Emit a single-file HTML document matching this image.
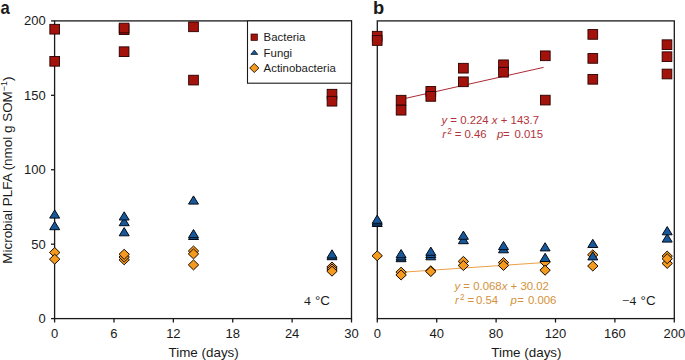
<!DOCTYPE html>
<html><head><meta charset="utf-8"><style>
html,body{margin:0;padding:0;background:#fff;width:685px;height:360px;overflow:hidden}
svg{display:block}
text{font-family:"Liberation Sans", sans-serif;white-space:pre}
</style></head><body>
<svg width="685" height="360" viewBox="0 0 685 360">
<rect x="54.6" y="20.9" width="296.90" height="297.70" fill="none" stroke="#1a1a1a" stroke-width="1.3"/>
<rect x="377.3" y="20.9" width="297.00" height="297.70" fill="none" stroke="#1a1a1a" stroke-width="1.3"/>
<line x1="51.0" y1="318.60" x2="54.6" y2="318.60" stroke="#1a1a1a" stroke-width="1.3"/>
<line x1="51.0" y1="244.18" x2="54.6" y2="244.18" stroke="#1a1a1a" stroke-width="1.3"/>
<line x1="51.0" y1="169.75" x2="54.6" y2="169.75" stroke="#1a1a1a" stroke-width="1.3"/>
<line x1="51.0" y1="95.32" x2="54.6" y2="95.32" stroke="#1a1a1a" stroke-width="1.3"/>
<line x1="51.0" y1="20.90" x2="54.6" y2="20.90" stroke="#1a1a1a" stroke-width="1.3"/>
<line x1="54.60" y1="318.6" x2="54.60" y2="322.5" stroke="#1a1a1a" stroke-width="1.3"/>
<line x1="377.30" y1="318.6" x2="377.30" y2="322.5" stroke="#1a1a1a" stroke-width="1.3"/>
<line x1="113.98" y1="318.6" x2="113.98" y2="322.5" stroke="#1a1a1a" stroke-width="1.3"/>
<line x1="436.70" y1="318.6" x2="436.70" y2="322.5" stroke="#1a1a1a" stroke-width="1.3"/>
<line x1="173.36" y1="318.6" x2="173.36" y2="322.5" stroke="#1a1a1a" stroke-width="1.3"/>
<line x1="496.10" y1="318.6" x2="496.10" y2="322.5" stroke="#1a1a1a" stroke-width="1.3"/>
<line x1="232.74" y1="318.6" x2="232.74" y2="322.5" stroke="#1a1a1a" stroke-width="1.3"/>
<line x1="555.50" y1="318.6" x2="555.50" y2="322.5" stroke="#1a1a1a" stroke-width="1.3"/>
<line x1="292.12" y1="318.6" x2="292.12" y2="322.5" stroke="#1a1a1a" stroke-width="1.3"/>
<line x1="614.90" y1="318.6" x2="614.90" y2="322.5" stroke="#1a1a1a" stroke-width="1.3"/>
<line x1="351.50" y1="318.6" x2="351.50" y2="322.5" stroke="#1a1a1a" stroke-width="1.3"/>
<line x1="674.30" y1="318.6" x2="674.30" y2="322.5" stroke="#1a1a1a" stroke-width="1.3"/>
<line x1="401.06" y1="99.37" x2="543.62" y2="67.36" stroke="#ad2a35" stroke-width="1"/>
<line x1="401.06" y1="272.30" x2="543.62" y2="262.58" stroke="#eba048" stroke-width="1"/>
<path d="M54.70,247.50L59.90,252.50L54.70,257.50L49.50,252.50Z" fill="#f49a1e" stroke="#1a0d00" stroke-width="1" stroke-linejoin="round"/>
<path d="M54.70,254.20L59.90,259.20L54.70,264.20L49.50,259.20Z" fill="#f49a1e" stroke="#1a0d00" stroke-width="1" stroke-linejoin="round"/>
<path d="M124.20,254.80L129.40,259.80L124.20,264.80L119.00,259.80Z" fill="#f49a1e" stroke="#1a0d00" stroke-width="1" stroke-linejoin="round"/>
<path d="M124.20,252.00L129.40,257.00L124.20,262.00L119.00,257.00Z" fill="#f49a1e" stroke="#1a0d00" stroke-width="1" stroke-linejoin="round"/>
<path d="M124.20,249.30L129.40,254.30L124.20,259.30L119.00,254.30Z" fill="#f49a1e" stroke="#1a0d00" stroke-width="1" stroke-linejoin="round"/>
<path d="M193.50,259.90L198.70,264.90L193.50,269.90L188.30,264.90Z" fill="#f49a1e" stroke="#1a0d00" stroke-width="1" stroke-linejoin="round"/>
<path d="M193.50,246.00L198.70,251.00L193.50,256.00L188.30,251.00Z" fill="#f49a1e" stroke="#1a0d00" stroke-width="1" stroke-linejoin="round"/>
<path d="M193.50,248.90L198.70,253.90L193.50,258.90L188.30,253.90Z" fill="#f49a1e" stroke="#1a0d00" stroke-width="1" stroke-linejoin="round"/>
<path d="M332.00,262.00L337.20,267.00L332.00,272.00L326.80,267.00Z" fill="#f49a1e" stroke="#1a0d00" stroke-width="1" stroke-linejoin="round"/>
<path d="M332.00,264.00L337.20,269.00L332.00,274.00L326.80,269.00Z" fill="#f49a1e" stroke="#1a0d00" stroke-width="1" stroke-linejoin="round"/>
<path d="M332.00,266.20L337.20,271.20L332.00,276.20L326.80,271.20Z" fill="#f49a1e" stroke="#1a0d00" stroke-width="1" stroke-linejoin="round"/>
<path d="M377.20,250.80L382.40,255.80L377.20,260.80L372.00,255.80Z" fill="#f49a1e" stroke="#1a0d00" stroke-width="1" stroke-linejoin="round"/>
<path d="M401.10,267.20L406.30,272.20L401.10,277.20L395.90,272.20Z" fill="#f49a1e" stroke="#1a0d00" stroke-width="1" stroke-linejoin="round"/>
<path d="M401.10,270.00L406.30,275.00L401.10,280.00L395.90,275.00Z" fill="#f49a1e" stroke="#1a0d00" stroke-width="1" stroke-linejoin="round"/>
<path d="M430.80,265.80L436.00,270.80L430.80,275.80L425.60,270.80Z" fill="#f49a1e" stroke="#1a0d00" stroke-width="1" stroke-linejoin="round"/>
<path d="M430.80,266.50L436.00,271.50L430.80,276.50L425.60,271.50Z" fill="#f49a1e" stroke="#1a0d00" stroke-width="1" stroke-linejoin="round"/>
<path d="M463.40,256.40L468.60,261.40L463.40,266.40L458.20,261.40Z" fill="#f49a1e" stroke="#1a0d00" stroke-width="1" stroke-linejoin="round"/>
<path d="M463.40,260.50L468.60,265.50L463.40,270.50L458.20,265.50Z" fill="#f49a1e" stroke="#1a0d00" stroke-width="1" stroke-linejoin="round"/>
<path d="M503.50,257.60L508.70,262.60L503.50,267.60L498.30,262.60Z" fill="#f49a1e" stroke="#1a0d00" stroke-width="1" stroke-linejoin="round"/>
<path d="M503.50,260.40L508.70,265.40L503.50,270.40L498.30,265.40Z" fill="#f49a1e" stroke="#1a0d00" stroke-width="1" stroke-linejoin="round"/>
<path d="M545.10,257.00L550.30,262.00L545.10,267.00L539.90,262.00Z" fill="#f49a1e" stroke="#1a0d00" stroke-width="1" stroke-linejoin="round"/>
<path d="M545.10,265.20L550.30,270.20L545.10,275.20L539.90,270.20Z" fill="#f49a1e" stroke="#1a0d00" stroke-width="1" stroke-linejoin="round"/>
<path d="M592.80,249.80L598.00,254.80L592.80,259.80L587.60,254.80Z" fill="#f49a1e" stroke="#1a0d00" stroke-width="1" stroke-linejoin="round"/>
<path d="M592.80,261.00L598.00,266.00L592.80,271.00L587.60,266.00Z" fill="#f49a1e" stroke="#1a0d00" stroke-width="1" stroke-linejoin="round"/>
<path d="M667.20,251.10L672.40,256.10L667.20,261.10L662.00,256.10Z" fill="#f49a1e" stroke="#1a0d00" stroke-width="1" stroke-linejoin="round"/>
<path d="M667.20,258.40L672.40,263.40L667.20,268.40L662.00,263.40Z" fill="#f49a1e" stroke="#1a0d00" stroke-width="1" stroke-linejoin="round"/>
<path d="M667.20,253.70L672.40,258.70L667.20,263.70L662.00,258.70Z" fill="#f49a1e" stroke="#1a0d00" stroke-width="1" stroke-linejoin="round"/>
<path d="M49.70,218.10L59.70,218.10L54.70,209.90Z" fill="#17589a" stroke="#050a14" stroke-width="1" stroke-linejoin="round"/>
<path d="M49.70,229.70L59.70,229.70L54.70,221.50Z" fill="#17589a" stroke="#050a14" stroke-width="1" stroke-linejoin="round"/>
<path d="M119.20,225.70L129.20,225.70L124.20,217.50Z" fill="#17589a" stroke="#050a14" stroke-width="1" stroke-linejoin="round"/>
<path d="M119.20,220.00L129.20,220.00L124.20,211.80Z" fill="#17589a" stroke="#050a14" stroke-width="1" stroke-linejoin="round"/>
<path d="M119.20,235.80L129.20,235.80L124.20,227.60Z" fill="#17589a" stroke="#050a14" stroke-width="1" stroke-linejoin="round"/>
<path d="M188.50,204.10L198.50,204.10L193.50,195.90Z" fill="#17589a" stroke="#050a14" stroke-width="1" stroke-linejoin="round"/>
<path d="M188.50,239.50L198.50,239.50L193.50,231.30Z" fill="#17589a" stroke="#050a14" stroke-width="1" stroke-linejoin="round"/>
<path d="M188.50,237.70L198.50,237.70L193.50,229.50Z" fill="#17589a" stroke="#050a14" stroke-width="1" stroke-linejoin="round"/>
<path d="M327.00,259.70L337.00,259.70L332.00,251.50Z" fill="#17589a" stroke="#050a14" stroke-width="1" stroke-linejoin="round"/>
<path d="M327.00,258.00L337.00,258.00L332.00,249.80Z" fill="#17589a" stroke="#050a14" stroke-width="1" stroke-linejoin="round"/>
<path d="M372.20,226.50L382.20,226.50L377.20,218.30Z" fill="#17589a" stroke="#050a14" stroke-width="1" stroke-linejoin="round"/>
<path d="M372.20,225.00L382.20,225.00L377.20,216.80Z" fill="#17589a" stroke="#050a14" stroke-width="1" stroke-linejoin="round"/>
<path d="M372.20,223.30L382.20,223.30L377.20,215.10Z" fill="#17589a" stroke="#050a14" stroke-width="1" stroke-linejoin="round"/>
<path d="M396.10,261.70L406.10,261.70L401.10,253.50Z" fill="#17589a" stroke="#050a14" stroke-width="1" stroke-linejoin="round"/>
<path d="M396.10,260.00L406.10,260.00L401.10,251.80Z" fill="#17589a" stroke="#050a14" stroke-width="1" stroke-linejoin="round"/>
<path d="M396.10,257.70L406.10,257.70L401.10,249.50Z" fill="#17589a" stroke="#050a14" stroke-width="1" stroke-linejoin="round"/>
<path d="M425.80,259.80L435.80,259.80L430.80,251.60Z" fill="#17589a" stroke="#050a14" stroke-width="1" stroke-linejoin="round"/>
<path d="M425.80,257.50L435.80,257.50L430.80,249.30Z" fill="#17589a" stroke="#050a14" stroke-width="1" stroke-linejoin="round"/>
<path d="M425.80,255.30L435.80,255.30L430.80,247.10Z" fill="#17589a" stroke="#050a14" stroke-width="1" stroke-linejoin="round"/>
<path d="M458.40,243.70L468.40,243.70L463.40,235.50Z" fill="#17589a" stroke="#050a14" stroke-width="1" stroke-linejoin="round"/>
<path d="M458.40,239.30L468.40,239.30L463.40,231.10Z" fill="#17589a" stroke="#050a14" stroke-width="1" stroke-linejoin="round"/>
<path d="M498.50,252.80L508.50,252.80L503.50,244.60Z" fill="#17589a" stroke="#050a14" stroke-width="1" stroke-linejoin="round"/>
<path d="M498.50,249.60L508.50,249.60L503.50,241.40Z" fill="#17589a" stroke="#050a14" stroke-width="1" stroke-linejoin="round"/>
<path d="M540.10,250.90L550.10,250.90L545.10,242.70Z" fill="#17589a" stroke="#050a14" stroke-width="1" stroke-linejoin="round"/>
<path d="M540.10,261.50L550.10,261.50L545.10,253.30Z" fill="#17589a" stroke="#050a14" stroke-width="1" stroke-linejoin="round"/>
<path d="M587.80,247.50L597.80,247.50L592.80,239.30Z" fill="#17589a" stroke="#050a14" stroke-width="1" stroke-linejoin="round"/>
<path d="M587.80,259.90L597.80,259.90L592.80,251.70Z" fill="#17589a" stroke="#050a14" stroke-width="1" stroke-linejoin="round"/>
<path d="M662.20,242.10L672.20,242.10L667.20,233.90Z" fill="#17589a" stroke="#050a14" stroke-width="1" stroke-linejoin="round"/>
<path d="M662.20,234.80L672.20,234.80L667.20,226.60Z" fill="#17589a" stroke="#050a14" stroke-width="1" stroke-linejoin="round"/>
<rect x="49.85" y="24.35" width="9.7" height="9.7" fill="#a3120b" stroke="#2a0000" stroke-width="0.9"/>
<rect x="49.85" y="56.45" width="9.7" height="9.7" fill="#a3120b" stroke="#2a0000" stroke-width="0.9"/>
<rect x="119.25" y="24.85" width="9.7" height="9.7" fill="#a3120b" stroke="#2a0000" stroke-width="0.9"/>
<rect x="119.25" y="23.15" width="9.7" height="9.7" fill="#a3120b" stroke="#2a0000" stroke-width="0.9"/>
<rect x="119.25" y="46.85" width="9.7" height="9.7" fill="#a3120b" stroke="#2a0000" stroke-width="0.9"/>
<rect x="188.65" y="21.95" width="9.7" height="9.7" fill="#a3120b" stroke="#2a0000" stroke-width="0.9"/>
<rect x="188.65" y="75.25" width="9.7" height="9.7" fill="#a3120b" stroke="#2a0000" stroke-width="0.9"/>
<rect x="327.15" y="89.35" width="9.7" height="9.7" fill="#a3120b" stroke="#2a0000" stroke-width="0.9"/>
<rect x="327.15" y="96.35" width="9.7" height="9.7" fill="#a3120b" stroke="#2a0000" stroke-width="0.9"/>
<rect x="372.35" y="31.35" width="9.7" height="9.7" fill="#a3120b" stroke="#2a0000" stroke-width="0.9"/>
<rect x="372.35" y="35.65" width="9.7" height="9.7" fill="#a3120b" stroke="#2a0000" stroke-width="0.9"/>
<rect x="396.25" y="95.35" width="9.7" height="9.7" fill="#a3120b" stroke="#2a0000" stroke-width="0.9"/>
<rect x="396.25" y="105.35" width="9.7" height="9.7" fill="#a3120b" stroke="#2a0000" stroke-width="0.9"/>
<rect x="425.95" y="86.55" width="9.7" height="9.7" fill="#a3120b" stroke="#2a0000" stroke-width="0.9"/>
<rect x="425.95" y="91.55" width="9.7" height="9.7" fill="#a3120b" stroke="#2a0000" stroke-width="0.9"/>
<rect x="458.55" y="63.35" width="9.7" height="9.7" fill="#a3120b" stroke="#2a0000" stroke-width="0.9"/>
<rect x="458.55" y="76.95" width="9.7" height="9.7" fill="#a3120b" stroke="#2a0000" stroke-width="0.9"/>
<rect x="498.65" y="59.95" width="9.7" height="9.7" fill="#a3120b" stroke="#2a0000" stroke-width="0.9"/>
<rect x="498.65" y="67.35" width="9.7" height="9.7" fill="#a3120b" stroke="#2a0000" stroke-width="0.9"/>
<rect x="540.45" y="50.95" width="9.7" height="9.7" fill="#a3120b" stroke="#2a0000" stroke-width="0.9"/>
<rect x="540.45" y="95.25" width="9.7" height="9.7" fill="#a3120b" stroke="#2a0000" stroke-width="0.9"/>
<rect x="587.95" y="29.55" width="9.7" height="9.7" fill="#a3120b" stroke="#2a0000" stroke-width="0.9"/>
<rect x="587.95" y="53.55" width="9.7" height="9.7" fill="#a3120b" stroke="#2a0000" stroke-width="0.9"/>
<rect x="587.95" y="74.45" width="9.7" height="9.7" fill="#a3120b" stroke="#2a0000" stroke-width="0.9"/>
<rect x="662.15" y="39.85" width="9.7" height="9.7" fill="#a3120b" stroke="#2a0000" stroke-width="0.9"/>
<rect x="662.15" y="51.85" width="9.7" height="9.7" fill="#a3120b" stroke="#2a0000" stroke-width="0.9"/>
<rect x="662.15" y="69.15" width="9.7" height="9.7" fill="#a3120b" stroke="#2a0000" stroke-width="0.9"/>
<rect x="247.5" y="20.9" width="104.00" height="62.30" fill="#fff" stroke="#1a1a1a" stroke-width="1.1"/>
<rect x="251.0" y="34.0" width="6.4" height="6.4" fill="#a3120b" stroke="#2a0000" stroke-width="0.7"/>
<path d="M250.8,54.4L257.8,54.4L254.3,50.1Z" fill="#17589a" stroke="#050a14" stroke-width="0.7" stroke-linejoin="round"/>
<path d="M254.3,63.5L258.9,68L254.3,72.5L249.7,68Z" fill="#f49a1e" stroke="#1a0d00" stroke-width="0.9" stroke-linejoin="round"/>
<g fill="#1a1a1a">
<text x="263.6" y="40.9" font-size="11.4">Bacteria</text>
<text x="263.6" y="56.6" font-size="11.4">Fungi</text>
<text x="263.6" y="71.7" font-size="11.4">Actinobacteria</text>
<text x="45.7" y="323.10" font-size="13" text-anchor="end">0</text>
<text x="45.7" y="248.68" font-size="13" text-anchor="end">50</text>
<text x="45.7" y="174.25" font-size="13" text-anchor="end">100</text>
<text x="45.7" y="99.82" font-size="13" text-anchor="end">150</text>
<text x="45.7" y="25.40" font-size="13" text-anchor="end">200</text>
<text x="54.60" y="337.8" font-size="13" text-anchor="middle">0</text>
<text x="113.98" y="337.8" font-size="13" text-anchor="middle">6</text>
<text x="173.36" y="337.8" font-size="13" text-anchor="middle">12</text>
<text x="232.74" y="337.8" font-size="13" text-anchor="middle">18</text>
<text x="292.12" y="337.8" font-size="13" text-anchor="middle">24</text>
<text x="351.50" y="337.8" font-size="13" text-anchor="middle">30</text>
<text x="377.30" y="337.8" font-size="13" text-anchor="middle">0</text>
<text x="436.70" y="337.8" font-size="13" text-anchor="middle">40</text>
<text x="496.10" y="337.8" font-size="13" text-anchor="middle">80</text>
<text x="555.50" y="337.8" font-size="13" text-anchor="middle">120</text>
<text x="614.90" y="337.8" font-size="13" text-anchor="middle">160</text>
<text x="674.30" y="337.8" font-size="13" text-anchor="middle">200</text>
<text x="203.65" y="356.6" font-size="13.4" text-anchor="middle">Time (days)</text>
<text x="526.40" y="356.6" font-size="13.4" text-anchor="middle">Time (days)</text>
<text transform="translate(11.6,170.1) rotate(-90)" font-size="13.45" text-anchor="middle">Microbial PLFA (nmol g SOM<tspan font-size="9" dy="-5">−1</tspan><tspan dy="5">)</tspan></text>
<text transform="translate(0.6,13.7) scale(0.9,1)" font-size="18.5" font-weight="bold">a</text>
<text x="373.0" y="13.7" font-size="18.3" font-weight="bold">b</text>
<text y="304.8" font-size="13.4"><tspan x="304.1" font-size="13.5" font-family='"Liberation Serif", serif'>4</tspan><tspan x="315.0">°C</tspan></text>
<text y="304.8" font-size="13.4"><tspan x="622.0" font-size="13.4" font-family='"Liberation Serif", serif'>−4</tspan><tspan x="640.6">°C</tspan></text>
<text x="441.5" y="123.8" font-size="11.4" fill="#b2343c"><tspan font-style="italic">y</tspan> = 0.224 <tspan font-style="italic">x</tspan> + 143.7</text>
<text y="137.6" font-size="11.4" fill="#b2343c"><tspan x="442.20" font-style="italic">r</tspan><tspan x="447.20" dy="-3.9" font-size="8.2">2</tspan><tspan x="454.80" dy="3.9">=</tspan><tspan x="464.50">0.46</tspan><tspan x="497.10" font-style="italic">p</tspan><tspan x="503.00">=</tspan><tspan x="514.50">0.015</tspan></text>
<text x="454.5" y="290" font-size="11.4" fill="#d4923a"><tspan font-style="italic">y</tspan> = 0.068<tspan font-style="italic">x</tspan> + 30.02</text>
<text y="304.0" font-size="11.4" fill="#d4923a"><tspan x="455.00" font-style="italic">r</tspan><tspan x="460.00" dy="-3.9" font-size="8.2">2</tspan><tspan x="467.60" dy="3.9">=</tspan><tspan x="475.90">0.54</tspan><tspan x="510.50" font-style="italic">p</tspan><tspan x="517.30">=</tspan><tspan x="527.90">0.006</tspan></text>
</g>
</svg>
</body></html>
